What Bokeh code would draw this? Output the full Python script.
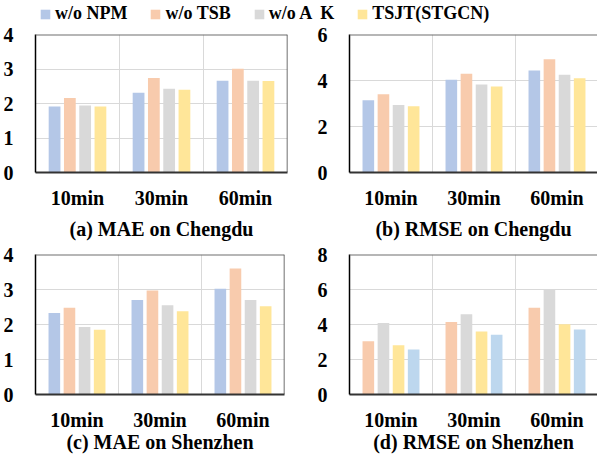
from bokeh.plotting import figure
from bokeh.layouts import column, row
from bokeh.models import (ColumnDataSource, FixedTicker, Range1d, Span,
                          Legend, LegendItem)
from bokeh.transform import dodge
from bokeh.embed import file_html
from bokeh.resources import INLINE

# ---------------- data ----------------
categories = ["10min", "30min", "60min"]
series = ["w/o NPM", "w/o TSB", "w/o A  K", "TSJT(STGCN)"]

mae_chengdu_npm = [1.91, 2.31, 2.66]
mae_chengdu_tsb = [2.16, 2.74, 3.01]
mae_chengdu_ak = [1.94, 2.43, 2.66]
mae_chengdu_tsjt = [1.91, 2.40, 2.65]

rmse_chengdu_npm = [3.14, 4.03, 4.44]
rmse_chengdu_tsb = [3.40, 4.29, 4.92]
rmse_chengdu_ak = [2.94, 3.83, 4.25]
rmse_chengdu_tsjt = [2.88, 3.74, 4.10]

mae_shenzhen_npm = [2.33, 2.70, 3.02]
mae_shenzhen_tsb = [2.48, 2.97, 3.60]
mae_shenzhen_ak = [1.93, 2.55, 2.70]
mae_shenzhen_tsjt = [1.85, 2.38, 2.52]

# panel (d) shows its bars in a shifted colour order in the original
rmse_shenzhen_tsb = [3.04, 4.15, 4.96]
rmse_shenzhen_ak = [4.08, 4.59, 5.99]
rmse_shenzhen_tsjt = [2.81, 3.60, 4.01]
rmse_shenzhen_extra = [2.57, 3.42, 3.71]

# ---------------- style ----------------
C_BLUE, C_ORANGE, C_GRAY, C_YELLOW, C_LBLUE = "#B4C7E7", "#F8CBAD", "#D9D9D9", "#FFE699", "#BDD7EE"
series_colors = [C_BLUE, C_ORANGE, C_GRAY, C_YELLOW]
FONT = "Liberation Serif"
OFFSETS = [-0.273, -0.091, 0.091, 0.273]
BAR_W = 0.14


def panel(values, colors, ymax, yticks, caption, width, height, bl, br, bt, bb,
          xend, right_line, tick_standoff, cap_standoff):
    p = figure(width=width, height=height, x_range=Range1d(-0.5, xend),
               y_range=Range1d(0, ymax), output_backend="svg",
               toolbar_location=None, min_border_left=bl, min_border_right=br,
               min_border_top=bt, min_border_bottom=bb, outline_line_color=None)
    data = dict(x=list(range(len(categories))))
    for i, v in enumerate(values):
        data["v%d" % i] = v
    src = ColumnDataSource(data)
    for i, c in enumerate(colors):
        p.vbar(x=dodge("x", OFFSETS[i]), top="v%d" % i, width=BAR_W, source=src,
               fill_color=c, line_color=None)

    xa = p.xaxis[0]
    xa.ticker = FixedTicker(ticks=list(range(len(categories))))
    xa.major_label_overrides = {i: c for i, c in enumerate(categories)}
    xa.major_tick_line_color = None
    xa.minor_tick_line_color = None
    xa.axis_line_color = "#333333"
    xa.axis_line_width = 2
    xa.major_label_text_font = FONT
    xa.major_label_text_font_style = "bold"
    xa.major_label_text_font_size = "20px"
    xa.major_label_text_color = "black"
    xa.major_label_standoff = tick_standoff
    xa.axis_label = caption
    xa.axis_label_text_font = FONT
    xa.axis_label_text_font_style = "bold"
    xa.axis_label_text_font_size = "20px"
    xa.axis_label_text_color = "black"
    xa.axis_label_standoff = cap_standoff

    ya = p.yaxis[0]
    ya.ticker = FixedTicker(ticks=yticks)
    ya.major_tick_line_color = None
    ya.minor_tick_line_color = None
    ya.axis_line_color = "black"
    ya.axis_line_width = 1.5
    ya.major_label_text_font = FONT
    ya.major_label_text_font_style = "bold"
    ya.major_label_text_font_size = "20px"
    ya.major_label_text_color = "black"
    ya.major_label_standoff = 16

    p.xgrid.ticker = FixedTicker(ticks=[0.5, 1.5])
    p.ygrid.ticker = FixedTicker(ticks=yticks)
    p.grid.grid_line_color = "#D9D9D9"
    p.grid.grid_line_width = 1

    p.add_layout(Span(location=ymax, dimension="width", line_color="#6F6F6F",
                      line_width=2))
    if right_line:
        p.add_layout(Span(location=xend, dimension="height", line_color="#404040",
                          line_width=1.5))
    return p, src


pa, src_a = panel([mae_chengdu_npm, mae_chengdu_tsb, mae_chengdu_ak, mae_chengdu_tsjt],
                  series_colors, 4, [0, 1, 2, 3, 4], "(a) MAE on Chengdu",
                  300, 218, 35, 13, 10, 69, 2.5, True, 8, 6)
pb, _ = panel([rmse_chengdu_npm, rmse_chengdu_tsb, rmse_chengdu_ak, rmse_chengdu_tsjt],
              series_colors, 6, [0, 2, 4, 6], "(b) RMSE on Chengdu",
              297, 218, 49, 0, 10, 69, 2.488, False, 8, 6)
pc, _ = panel([mae_shenzhen_npm, mae_shenzhen_tsb, mae_shenzhen_ak, mae_shenzhen_tsjt],
              series_colors, 4, [0, 1, 2, 3, 4], "(c) MAE on Shenzhen",
              300, 222, 35, 16, 12, 70, 2.5, True, 8, -3)
pd_, _ = panel([rmse_shenzhen_tsb, rmse_shenzhen_ak, rmse_shenzhen_tsjt, rmse_shenzhen_extra],
               [C_ORANGE, C_GRAY, C_YELLOW, C_LBLUE], 8, [0, 2, 4, 6, 8], "(d) RMSE on Shenzhen",
               297, 222, 49, 0, 12, 70, 2.488, False, 8, -3)

# ---------------- legend strip ----------------
pl = figure(width=597, height=24, x_range=Range1d(0, 1), y_range=Range1d(0, 1),
            output_backend="svg", toolbar_location=None, min_border=0,
            outline_line_color=None)
pl.axis.visible = False
pl.grid.visible = False
items = []
for i, (name, c) in enumerate(zip(series, series_colors)):
    r = pl.vbar(x="x", top="v%d" % i, width=0.1, source=src_a, fill_color=c,
                line_color=None, visible=False)
    items.append(LegendItem(label=name, renderers=[r]))
legend = Legend(items=items, location=(39, 0), orientation="horizontal",
                glyph_width=12, glyph_height=12, label_standoff=4, spacing=22,
                padding=0, margin=0, border_line_color=None,
                background_fill_alpha=0, label_text_font=FONT,
                label_text_font_style="bold", label_text_font_size="18px",
                label_text_color="black")
pl.add_layout(legend)

layout = column(pl, row(pa, pb), row(pc, pd_))

open("out.html", "w").write(file_html(layout, INLINE))
